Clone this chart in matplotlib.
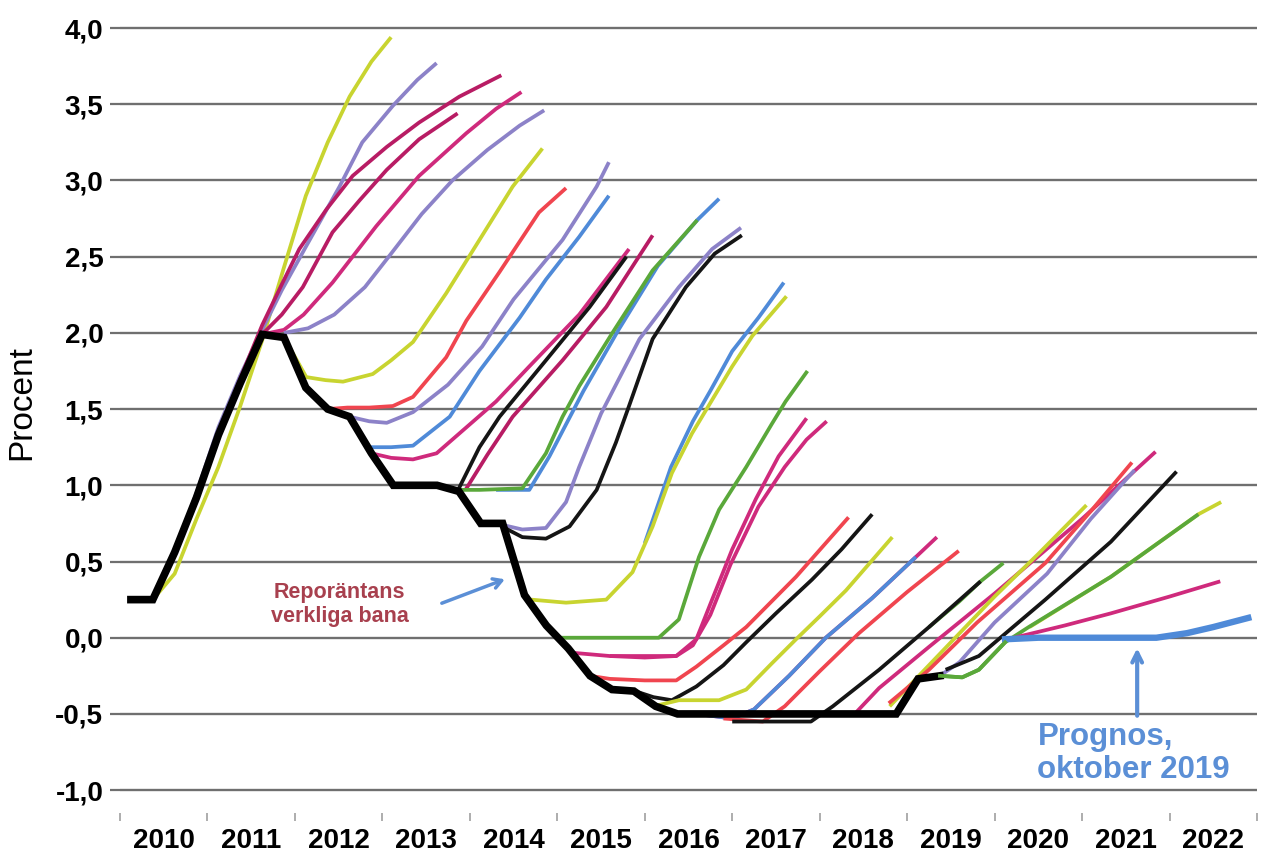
import numpy as np
import matplotlib
matplotlib.use("Agg")
import matplotlib.pyplot as plt
from matplotlib.ticker import FixedLocator, FuncFormatter

plt.rcParams['font.family'] = ['Liberation Sans', 'DejaVu Sans']

# Faktisk reporänta (kvartal)
actual_t = [2010.125, 2010.375, 2010.625, 2010.875, 2011.125, 2011.375, 2011.625, 2011.875,
            2012.125, 2012.375, 2012.625, 2012.875, 2013.125, 2013.375, 2013.625, 2013.875,
            2014.125, 2014.375, 2014.625, 2014.875, 2015.125, 2015.375, 2015.625, 2015.875,
            2016.125, 2016.375, 2016.625, 2016.875, 2017.125, 2017.375, 2017.625, 2017.875,
            2018.125, 2018.375, 2018.625, 2018.875, 2019.125, 2019.375]
actual_v = [0.25, 0.25, 0.56, 0.92, 1.33, 1.67, 1.99, 1.97,
            1.64, 1.50, 1.45, 1.21, 1.00, 1.00, 1.00, 0.96,
            0.75, 0.75, 0.28, 0.08, -0.07, -0.25, -0.34, -0.35,
            -0.45, -0.50, -0.50, -0.50, -0.50, -0.50, -0.50, -0.50,
            -0.50, -0.50, -0.50, -0.50, -0.27, -0.25]

# Prognoser
f01_t = [2010.375, 2010.625, 2010.875, 2011.125, 2011.375, 2011.625, 2011.875, 2012.125, 2012.375, 2012.625, 2012.875, 2013.1]
f01_v = [0.25, 0.42, 0.78, 1.12, 1.52, 1.95, 2.43, 2.90, 3.25, 3.55, 3.78, 3.94]
f02_t = [2010.625, 2010.875, 2011.125, 2011.375, 2011.625, 2011.85, 2012.13, 2012.51, 2012.77, 2013.12, 2013.4, 2013.62]
f02_v = [0.56, 0.95, 1.38, 1.72, 2.02, 2.28, 2.57, 2.96, 3.25, 3.49, 3.66, 3.77]
f03_t = [2010.875, 2011.125, 2011.375, 2011.625, 2011.86, 2012.05, 2012.36, 2012.66, 2013.05, 2013.42, 2013.88, 2014.36]
f03_v = [0.92, 1.33, 1.70, 2.05, 2.33, 2.55, 2.81, 3.03, 3.22, 3.38, 3.55, 3.69]
f04_t = [2011.125, 2011.375, 2011.625, 2011.85, 2012.09, 2012.43, 2012.74, 2013.05, 2013.42, 2013.86]
f04_v = [1.33, 1.67, 1.99, 2.12, 2.30, 2.66, 2.87, 3.07, 3.27, 3.44]
f05_t = [2011.625, 2011.875, 2012.1, 2012.43, 2012.93, 2013.42, 2013.96, 2014.3, 2014.59]
f05_v = [1.99, 2.02, 2.12, 2.33, 2.70, 3.03, 3.31, 3.47, 3.58]
f06_t = [2011.875, 2012.15, 2012.45, 2012.8, 2013.1, 2013.45, 2013.8, 2014.2, 2014.57, 2014.85]
f06_v = [2.0, 2.03, 2.12, 2.30, 2.52, 2.78, 3.0, 3.2, 3.36, 3.46]
f07_t = [2011.875, 2012.13, 2012.35, 2012.55, 2012.89, 2013.1, 2013.35, 2013.73, 2014.11, 2014.49, 2014.83]
f07_v = [1.97, 1.71, 1.69, 1.68, 1.73, 1.82, 1.94, 2.26, 2.61, 2.96, 3.21]
f08_t = [2012.375, 2012.6, 2012.85, 2013.12, 2013.35, 2013.73, 2013.96, 2014.34, 2014.79, 2015.1]
f08_v = [1.50, 1.51, 1.51, 1.52, 1.58, 1.84, 2.08, 2.40, 2.79, 2.95]
f09_t = [2012.625, 2012.85, 2013.05, 2013.35, 2013.75, 2014.14, 2014.5, 2015.06, 2015.45, 2015.59]
f09_v = [1.45, 1.42, 1.41, 1.48, 1.66, 1.91, 2.22, 2.61, 2.96, 3.12]
f10_t = [2012.8, 2013.1, 2013.35, 2013.77, 2014.11, 2014.57, 2014.87, 2015.25, 2015.59]
f10_v = [1.25, 1.25, 1.26, 1.45, 1.75, 2.10, 2.35, 2.63, 2.90]
f11_t = [2012.875, 2013.1, 2013.35, 2013.62, 2013.96, 2014.3, 2014.68, 2015.25, 2015.82]
f11_v = [1.21, 1.18, 1.17, 1.21, 1.38, 1.55, 1.78, 2.12, 2.55]
f12_t = [2013.875, 2014.11, 2014.34, 2014.87, 2015.37, 2015.79]
f12_v = [0.98, 1.25, 1.45, 1.82, 2.17, 2.50]
f13_t = [2013.95, 2014.2, 2014.49, 2015.06, 2015.56, 2016.09]
f13_v = [0.97, 1.20, 1.45, 1.82, 2.17, 2.64]
f14_t = [2013.875, 2014.11, 2014.6, 2014.87, 2015.06, 2015.25, 2015.63, 2016.09, 2016.6]
f14_v = [0.97, 0.97, 0.98, 1.21, 1.45, 1.65, 2.0, 2.41, 2.74]
f15_t = [2014.3, 2014.68, 2014.91, 2015.1, 2015.3, 2015.7, 2016.15, 2016.6, 2016.85]
f15_v = [0.97, 0.97, 1.19, 1.40, 1.62, 2.02, 2.44, 2.74, 2.88]
f16_t = [2014.375, 2014.6, 2014.87, 2015.1, 2015.25, 2015.5, 2015.94, 2016.39, 2016.77, 2017.1]
f16_v = [0.74, 0.71, 0.72, 0.89, 1.12, 1.47, 1.96, 2.30, 2.55, 2.69]
f17_t = [2014.4, 2014.6, 2014.87, 2015.14, 2015.45, 2015.67, 2015.82, 2016.09, 2016.47, 2016.8, 2017.11]
f17_v = [0.72, 0.66, 0.65, 0.73, 0.97, 1.28, 1.52, 1.96, 2.30, 2.52, 2.64]
f19_t = [2016.0, 2016.3, 2016.55, 2016.75, 2017.0, 2017.3, 2017.59]
f19_v = [0.62, 1.12, 1.42, 1.62, 1.88, 2.10, 2.33]
f18_t = [2014.7, 2015.1, 2015.56, 2015.86, 2016.09, 2016.31, 2016.54, 2016.77, 2017.0, 2017.23, 2017.62]
f18_v = [0.25, 0.23, 0.25, 0.43, 0.73, 1.08, 1.34, 1.56, 1.78, 1.98, 2.24]
f20_t = [2015.0, 2015.6, 2016.16, 2016.39, 2016.62, 2016.85, 2017.16, 2017.45, 2017.61, 2017.86]
f20_v = [0.0, 0.0, 0.0, 0.12, 0.53, 0.84, 1.12, 1.40, 1.55, 1.75]
f21_t = [2015.2, 2015.6, 2016.0, 2016.36, 2016.59, 2016.77, 2017.0, 2017.27, 2017.53, 2017.85]
f21_v = [-0.10, -0.12, -0.12, -0.12, -0.01, 0.25, 0.58, 0.91, 1.19, 1.44]
f22_t = [2015.6, 2016.0, 2016.36, 2016.55, 2016.75, 2016.98, 2017.3, 2017.6, 2017.85, 2018.08]
f22_v = [-0.12, -0.13, -0.12, -0.05, 0.15, 0.48, 0.86, 1.12, 1.30, 1.42]
f23_t = [2015.375, 2015.6, 2016.0, 2016.36, 2016.59, 2016.9, 2017.16, 2017.73, 2018.33]
f23_v = [-0.25, -0.27, -0.28, -0.28, -0.19, -0.05, 0.07, 0.40, 0.79]
f24_t = [2015.75, 2015.94, 2016.1, 2016.31, 2016.59, 2016.9, 2017.16, 2017.5, 2017.91, 2018.25, 2018.6]
f24_v = [-0.35, -0.36, -0.39, -0.41, -0.32, -0.18, -0.03, 0.16, 0.38, 0.58, 0.81]
f25_t = [2016.1, 2016.39, 2016.85, 2017.16, 2017.45, 2017.73, 2018.0, 2018.3, 2018.83]
f25_v = [-0.45, -0.41, -0.41, -0.34, -0.17, -0.01, 0.14, 0.31, 0.66]
f26_t = [2016.6, 2017.0, 2017.25, 2017.65, 2018.07, 2018.6, 2019.1, 2019.34]
f26_v = [-0.50, -0.53, -0.47, -0.25, 0.0, 0.26, 0.53, 0.66]
f27_t = [2016.6, 2017.0, 2017.25, 2017.65, 2018.07, 2018.6, 2019.1]
f27_v = [-0.50, -0.53, -0.47, -0.25, 0.0, 0.26, 0.53]
f28_t = [2016.9, 2017.35, 2017.6, 2018.0, 2018.45, 2019.0, 2019.59]
f28_v = [-0.53, -0.55, -0.45, -0.22, 0.03, 0.30, 0.57]
f30_t = [2019.25, 2019.6, 2019.84, 2020.1]
f30_v = [0.07, 0.24, 0.37, 0.49]
f29_t = [2017.0, 2017.9, 2018.15, 2018.68, 2019.25, 2019.84]
f29_v = [-0.55, -0.55, -0.45, -0.21, 0.07, 0.37]
f31_t = [2018.4, 2018.68, 2019.25, 2020.0, 2021.0, 2021.84]
f31_v = [-0.50, -0.33, -0.06, 0.29, 0.78, 1.22]
f32_t = [2018.8, 2019.3, 2020.0, 2020.5, 2021.05]
f32_v = [-0.45, -0.15, 0.27, 0.55, 0.87]
f33_t = [2018.79, 2019.25, 2019.8, 2020.58, 2021.1, 2021.57]
f33_v = [-0.43, -0.21, 0.10, 0.49, 0.83, 1.15]
f34_t = [2019.375, 2019.6, 2020.0, 2020.6, 2021.1, 2021.6]
f34_v = [-0.25, -0.16, 0.10, 0.42, 0.78, 1.10]
f35_t = [2019.44, 2019.82, 2020.58, 2021.33, 2022.08]
f35_v = [-0.21, -0.12, 0.25, 0.63, 1.09]
f37_t = [2020.4, 2021.33, 2022.33, 2022.59]
f37_v = [0.07, 0.40, 0.81, 0.89]
f36_t = [2019.375, 2019.63, 2019.82, 2020.12, 2020.39, 2021.33, 2022.33]
f36_v = [-0.25, -0.26, -0.21, -0.03, 0.07, 0.40, 0.81]
f38_t = [2020.15, 2020.8, 2021.33, 2022.0, 2022.58]
f38_v = [-0.01, 0.08, 0.16, 0.27, 0.37]

# Prognos oktober 2019
prog_t = [2020.12, 2020.5, 2021.0, 2021.5, 2021.85, 2022.2, 2022.5, 2022.9]
prog_v = [-0.01, 0.0, 0.0, 0.0, 0.0, 0.03, 0.07, 0.13]

years = list(range(2010, 2023))
yticks = [-1.0, -0.5, 0.0, 0.5, 1.0, 1.5, 2.0, 2.5, 3.0, 3.5, 4.0]

YEL = "#c8d430"
PUR = "#8c82c8"
CRI = "#b81c64"
MAG = "#cf2a7c"
RED = "#f0454f"
BLU = "#4f8ad8"
GRN = "#5aa83a"
BLK = "#151515"

forecasts = [
    (f01_t, f01_v, YEL), (f02_t, f02_v, PUR), (f03_t, f03_v, CRI), (f04_t, f04_v, CRI),
    (f05_t, f05_v, MAG), (f06_t, f06_v, PUR), (f07_t, f07_v, YEL), (f08_t, f08_v, RED),
    (f09_t, f09_v, PUR), (f10_t, f10_v, BLU), (f11_t, f11_v, MAG), (f12_t, f12_v, BLK),
    (f13_t, f13_v, CRI), (f15_t, f15_v, BLU), (f14_t, f14_v, GRN), (f16_t, f16_v, PUR),
    (f17_t, f17_v, BLK), (f19_t, f19_v, BLU), (f18_t, f18_v, YEL), (f20_t, f20_v, GRN),
    (f21_t, f21_v, MAG), (f22_t, f22_v, MAG), (f23_t, f23_v, RED), (f24_t, f24_v, BLK),
    (f25_t, f25_v, YEL), (f26_t, f26_v, MAG), (f27_t, f27_v, BLU), (f28_t, f28_v, RED),
    (f30_t, f30_v, GRN), (f29_t, f29_v, BLK), (f31_t, f31_v, MAG), (f32_t, f32_v, YEL),
    (f33_t, f33_v, RED), (f34_t, f34_v, PUR), (f35_t, f35_v, BLK), (f37_t, f37_v, YEL),
    (f36_t, f36_v, GRN), (f38_t, f38_v, MAG),
]

fig = plt.figure(figsize=(12.67, 8.65), dpi=100)
ax = fig.add_axes([0.0947, 0.0601, 0.8974, 0.9163])
ax.set_xlim(2010, 2023)
ax.set_ylim(-1.15, 4.05)

for y in yticks:
    ax.axhline(y, color="#6f6f6f", lw=1.7, zorder=1)

for t, v, c in forecasts:
    ax.plot(t, v, color=c, lw=2.7, solid_capstyle='butt', zorder=2)

ax.plot(actual_t, actual_v, color="black", lw=5.5, solid_joinstyle='miter', zorder=3)
ax.plot(prog_t, prog_v, color=BLU, lw=4.6, zorder=4)
ax.plot(f36_t[:4], f36_v[:4], color=GRN, lw=2.7, zorder=4)

for s in ax.spines.values():
    s.set_visible(False)

ax.yaxis.set_major_locator(FixedLocator(yticks))
ax.yaxis.set_major_formatter(FuncFormatter(lambda v, p: ("%.1f" % v).replace('.', ',')))
ax.tick_params(axis='y', length=7, width=1.6, color="#6f6f6f", pad=5, labelsize=20)
for lab in ax.get_yticklabels():
    lab.set_fontweight('bold')

ax.xaxis.set_major_locator(FixedLocator(years + [2023]))
ax.xaxis.set_major_formatter(FuncFormatter(lambda v, p: ""))
ax.xaxis.set_minor_locator(FixedLocator([y + 0.5 for y in years]))
ax.xaxis.set_minor_formatter(FuncFormatter(lambda v, p: str(int(v))))
ax.tick_params(axis='x', which='major', length=6, width=1.2, color="#a0a0a0")
ax.tick_params(axis='x', which='minor', length=0, pad=11, labelsize=20)
for lab in ax.get_xticklabels(minor=True):
    lab.set_fontweight('bold')

fig.text(0.017, 0.535, "Procent", rotation=90, ha='center', va='center', fontsize=24)

# Annoteringar
ax.text(2012.51, 0.22, "Reporäntans\nverkliga bana", color="#a8404e", fontsize=15.5,
        fontweight='bold', ha='center', va='center', multialignment='center', zorder=5)
ax.annotate("", xy=(2014.43, 0.39), xytext=(2013.65, 0.22),
            arrowprops=dict(arrowstyle='->,head_length=0.6,head_width=0.35', color="#5b8fd6", lw=2.5))
ax.annotate("", xy=(2021.63, -0.05), xytext=(2021.63, -0.53),
            arrowprops=dict(arrowstyle='->,head_length=0.7,head_width=0.35', color="#5b8fd6", lw=3))
ax.text(2020.49, -0.76, "Prognos,\noktober 2019", color="#5b8fd6", fontsize=22.5,
        fontweight='bold', ha='left', va='center', multialignment='left', linespacing=1.1, zorder=5)

fig.savefig("out.png", dpi=100)
